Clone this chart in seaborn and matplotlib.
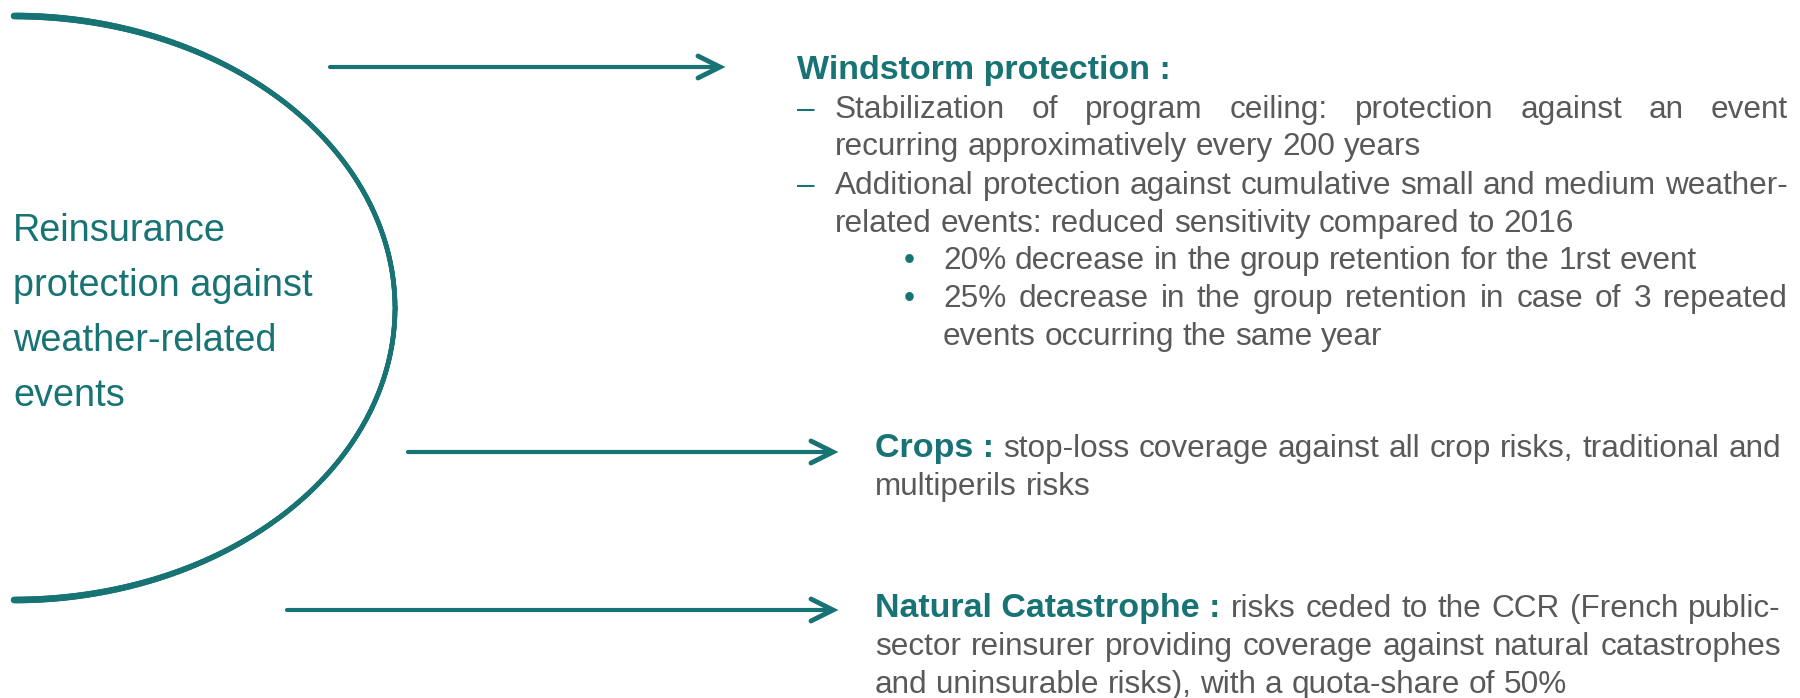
"""
plot.py
-------
Reinsurance protection against weather-related events:
bracket arc on the left, three arrows pointing to text blocks.
"""

import numpy as np
import pandas as pd
import matplotlib
matplotlib.use("Agg")
import matplotlib.pyplot as plt
from matplotlib.collections import LineCollection
import seaborn as sns

# ── Texts ────────────────────────────────────────────────────────────
left_lines = ["Reinsurance", "protection against", "weather-related", "events"]

wind_title = "Windstorm protection :"
wind_dash_lines = [
    ("Stabilization of program ceiling: protection against an event", True),
    ("recurring approximatively every 200 years", False),
    ("Additional protection against cumulative small and medium weather-", True),
    ("related events: reduced sensitivity compared to 2016", False),
]
wind_dash_marks = [True, False, True, False]
wind_bullet_lines = [
    ("20% decrease in the group retention for the 1rst event", False),
    ("25% decrease in the group retention in case of 3 repeated", True),
    ("events occurring the same year", False),
]
wind_bullet_marks = [True, True, False]

crops_title = "Crops :"
crops_lines = [
    ("stop-loss coverage against all crop risks, traditional and", True),
    ("multiperils risks", False),
]

natcat_title = "Natural Catastrophe :"
natcat_lines = [
    ("risks ceded to the CCR (French public-", True),
    ("sector reinsurer providing coverage against natural catastrophes", True),
    ("and uninsurable risks), with a quota-share of 50%", False),
]

# ── Layout (pixels, y downwards) ─────────────────────────────────────
arrow_y = [67, 452, 610]
arrow_x0 = [330, 408, 287]
arrow_x1 = [720, 833, 833]

left_baselines = [241, 296, 351, 406]
wind_title_y = 79
wind_dash_y = [118, 155, 194, 232]
wind_bullet_y = [269, 307, 345]
crops_y = [457, 495]
natcat_y = [617, 655, 693]

TEAL = "#187374"
GREY = "#595959"
W, H = 1800, 698

sns.set_theme(style="white")
plt.rcParams["font.family"] = ["Liberation Sans", "DejaVu Sans"]

fig = plt.figure(figsize=(W / 100, H / 100), dpi=100)
ax = fig.add_axes([0, 0, 1, 1])

# ── Arc (half ellipse, a bit heavier at both ends) ───────────────────
t = np.linspace(-np.pi / 2, np.pi / 2, 600)
arc_x = 14 + 381 * np.cos(t)
arc_y = 308 + 292 * np.sin(t)
ax.plot(arc_x, arc_y, color=TEAL, lw=3.4, solid_capstyle="butt")
pts = np.column_stack([arc_x, arc_y]).reshape(-1, 1, 2)
segs = np.concatenate([pts[:-1], pts[1:]], axis=1)
tm = (t[:-1] + t[1:]) / 2
widths = 3.4 + 1.4 * np.abs(np.sin(tm)) ** 6
ax.add_collection(LineCollection(segs, linewidths=widths, colors=TEAL,
                                 capstyle="round"))

# ── Arrows ───────────────────────────────────────────────────────────
rows = []
for i, (y, x0, x1) in enumerate(zip(arrow_y, arrow_x0, arrow_x1)):
    rows += [(f"s{i}", x0, y), (f"s{i}", x1 - 3, y)]
    rows += [(f"h{i}", x1 - 22, y - 11), (f"h{i}", x1, y),
             (f"h{i}", x1 - 22, y + 11)]
arrows = pd.DataFrame(rows, columns=["part", "x", "y"])
shafts = arrows[arrows["part"].str.startswith("s")]
heads = arrows[arrows["part"].str.startswith("h")]
sns.lineplot(data=shafts, x="x", y="y", units="part", estimator=None,
             sort=False, color=TEAL, lw=3.0, ax=ax)
sns.lineplot(data=heads, x="x", y="y", units="part", estimator=None,
             sort=False, color=TEAL, lw=3.5, ax=ax,
             solid_capstyle="round", solid_joinstyle="miter")

ax.set_xlim(0, W)
ax.set_ylim(H, 0)
ax.axis("off")

renderer = fig.canvas.get_renderer()

BODY = dict(fontsize=22.7, color=GREY)
BOLD = dict(fontsize=24.5, color=TEAL, fontweight="bold")


def text_width(txt, style):
    tt = ax.text(0, 0, txt, **style)
    w = tt.get_window_extent(renderer).width
    tt.remove()
    return w


SPACE = text_width("x x", BODY) - text_width("xx", BODY)


def draw_line(units, x0, y, x1=None):
    """Place word units on a baseline; justify to x1 if given."""
    arts, ws = [], []
    for txt, style in units:
        a = ax.text(x0, y, txt, va="baseline", ha="left", **style)
        arts.append(a)
        ws.append(a.get_window_extent(renderer).width)
    gap = SPACE
    if x1 is not None and len(units) > 1:
        g = (x1 - x0 - sum(ws)) / (len(units) - 1)
        if g > SPACE * 0.6:
            gap = g
    x = x0
    for a, w in zip(arts, ws):
        a.set_x(x)
        x += w + gap


def words(s):
    return [(w, BODY) for w in s.split()]


# ── Left label (fit width of the longest line) ───────────────────────
LEFT = dict(color=TEAL, family=["Liberation Sans Narrow", "Liberation Sans"])
probe = text_width("protection against", dict(fontsize=30, **LEFT))
left_size = 30 * 298 / probe
for line, y in zip(left_lines, left_baselines):
    ax.text(13, y, line, va="baseline", ha="left", fontsize=left_size, **LEFT)

# ── Windstorm block ──────────────────────────────────────────────────
RIGHT_W = 1788
draw_line([(wind_title, BOLD)], 797, wind_title_y)
for (line, just), mark, y in zip(wind_dash_lines, wind_dash_marks, wind_dash_y):
    if mark:
        ax.text(797, y, "\u2013", va="baseline", ha="left",
                fontsize=22.7, color=TEAL)
    draw_line(words(line), 835, y, RIGHT_W if just else None)
for (line, just), mark, y in zip(wind_bullet_lines, wind_bullet_marks,
                                 wind_bullet_y):
    if mark:
        ax.text(904, y, "\u2022", va="baseline", ha="left",
                fontsize=22.7, color=TEAL)
    draw_line(words(line), 943, y, RIGHT_W if just else None)

# ── Crops / Natural catastrophe blocks ───────────────────────────────
RIGHT_C = 1781
for title, lines, ys in [(crops_title, crops_lines, crops_y),
                         (natcat_title, natcat_lines, natcat_y)]:
    for k, ((line, just), y) in enumerate(zip(lines, ys)):
        units = words(line)
        if k == 0:
            units = [(title, BOLD)] + units
        draw_line(units, 875, y, RIGHT_C if just else None)

fig.savefig("out.png", dpi=100)
